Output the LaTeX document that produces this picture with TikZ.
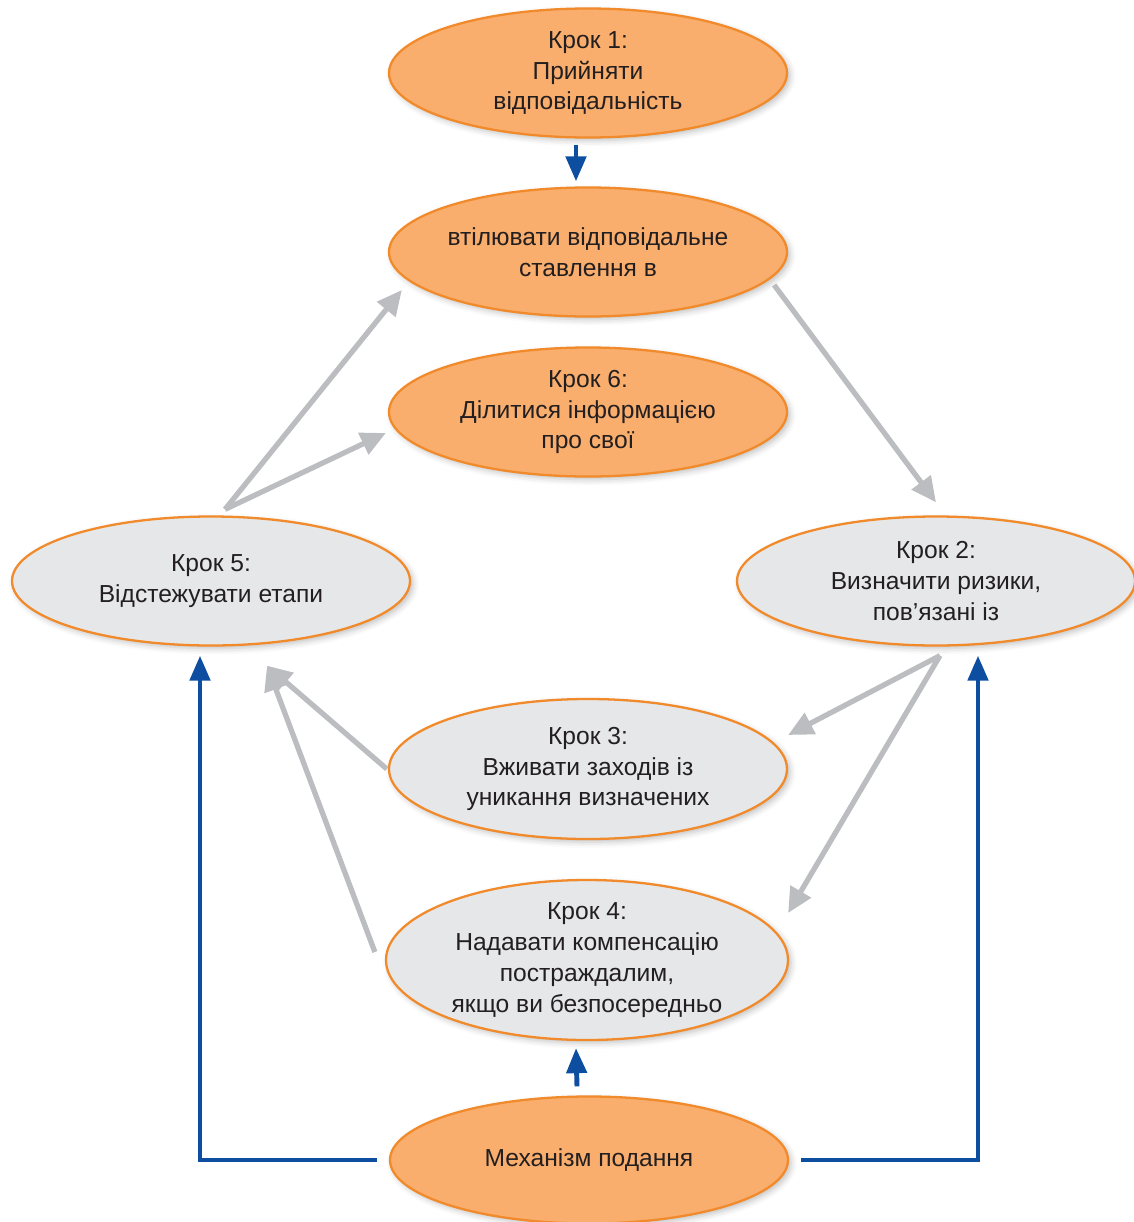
\documentclass[tikz,border=0pt]{standalone}
\usepackage{fontspec}
\setmainfont{Liberation Sans}
\usepackage{tikz}
\usetikzlibrary{shapes.geometric}
\usetikzlibrary{arrows.meta}
\usetikzlibrary{shadows.blur}
\usepackage{xcolor}
\definecolor{stepfill}{HTML}{F9AE6E}
\definecolor{stepline}{HTML}{F18A2B}
\definecolor{greyfill}{HTML}{E6E7E8}
\definecolor{arrowgrey}{HTML}{BCBDC0}
\definecolor{arrowblue}{HTML}{0D4EA1}
\definecolor{textdark}{HTML}{231F20}

\begin{document}
\begin{tikzpicture}[
  stepbox/.style={ellipse, draw=stepline, line width=1.3pt, fill=stepfill, align=center, inner sep=0pt,
    minimum width=7.96cm, minimum height=2.58cm, text=textdark,
    font=\fontsize{14pt}{17.5pt}\selectfont,
    blur shadow={shadow xshift=0.6mm, shadow yshift=-0.6mm, shadow blur radius=1.2mm, shadow opacity=25}},
  greybox/.style={stepbox, fill=greyfill},
  greyarrow/.style={-{Triangle[length=5mm, width=4.6mm]}, draw=arrowgrey, line width=3pt},
  bluearrow/.style={-{Triangle[length=5mm, width=4mm]}, draw=arrowblue, line width=2.8pt}
]
\useasboundingbox (0,0) rectangle (22.68,-24.44);
% Nodes
\node[stepbox] (K1) at (11.76,-1.46) {Крок 1:\\Прийняти\\відповідальність};
\node[stepbox] (Emb) at (11.76,-5.04) {втілювати відповідальне\\ставлення в};
\node[stepbox] (K6) at (11.76,-8.24) {Крок 6:\\Ділитися інформацією\\про свої};
\node[greybox] (K5) at (4.22,-11.62) {Крок 5:\\Відстежувати етапи};
\node[greybox] (K2) at (18.72,-11.62) {Крок 2:\\Визначити ризики,\\пов’язані із};
\node[greybox, minimum height=2.8cm] (K3) at (11.76,-15.38) {Крок 3:\\Вживати заходів із\\уникання визначених};
\node[greybox, minimum width=8.04cm, minimum height=3.2cm, inner ysep=-2mm] (K4) at (11.74,-19.2) {Крок 4:\\Надавати компенсацію\\постраждалим,\\якщо ви безпосередньо};
\node[stepbox, minimum height=2.54cm] (Mech) at (11.78,-23.2) {Механізм подання};

% Edges
\draw[bluearrow, shorten <=1.2mm, shorten >=1mm] ([xshift=-2.4mm]K1.south) -- ([xshift=-2.4mm]Emb.north);
\draw[greyarrow] ([xshift=-2.8mm, yshift=-6.6mm]Emb.east) -- ([yshift=2.6mm]K2.north);

\draw[greyarrow] ([xshift=2.8mm, yshift=1.2mm]K5.north) -- ([xshift=2.8mm, yshift=-7.6mm]Emb.west);
\draw[greyarrow] ([xshift=2.8mm, yshift=1.2mm]K5.north) -- ([xshift=-0.4mm, yshift=-4.2mm]K6.west);

\draw[greyarrow] ([xshift=0.8mm, yshift=-1.8mm]K2.south) -- ([yshift=6.8mm]K3.east);
\draw[greyarrow] ([xshift=0.8mm, yshift=-1.8mm]K2.south) -- ([xshift=-0.2mm, yshift=9.4mm]K4.east);

\draw[greyarrow] ([xshift=-0.2mm]K3.west) -- ([xshift=11.2mm, yshift=-3.8mm]K5.south);
\draw[greyarrow] ([xshift=-2mm, yshift=1.6mm]K4.west) -- ([xshift=11.2mm, yshift=-3.8mm]K5.south);

\draw[bluearrow] ([xshift=-2.4mm]Mech.west) -| ([xshift=-2.2mm, yshift=-1.8mm]K5.south);
\draw[bluearrow] ([xshift=2.4mm]Mech.east) -| ([xshift=8.4mm, yshift=-1.8mm]K2.south);
\draw[bluearrow] ([xshift=-2.4mm, yshift=1.8mm]Mech.north) -- ([xshift=-2.2mm, yshift=-1.4mm]K4.south);

\end{tikzpicture}
\end{document}
